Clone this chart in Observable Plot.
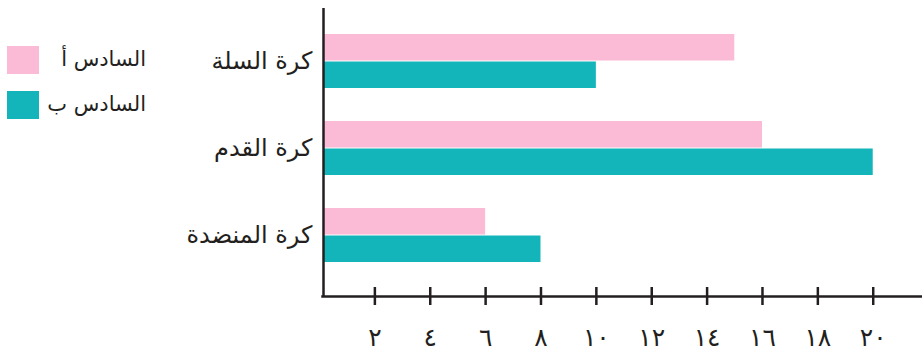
<!DOCTYPE html>
<html>
<head>
<meta charset="utf-8">
<script src="https://cdn.jsdelivr.net/npm/d3@7"></script>
<script src="https://cdn.jsdelivr.net/npm/@observablehq/plot@0.6"></script>
<style>
  html, body { margin: 0; padding: 0; background: #ffffff; }
  #wrap { position: relative; width: 922px; height: 351px; overflow: hidden; }
  #legend { position: absolute; left: 0; top: 0; font-family: "DejaVu Sans", sans-serif; color: #231f20; }
  .item { position: absolute; left: 7px; width: 139px; height: 28px; }
  .sw { position: absolute; left: 0; top: 0; width: 32px; height: 28px; }
  .lab { position: absolute; right: 0; top: -1px; line-height: 28px; font-size: 21px; direction: rtl; white-space: nowrap; }
</style>
</head>
<body>
<div id="wrap">
  <div id="chart"></div>
  <div id="legend"></div>
</div>
<script>
const categories = ["كرة السلة", "كرة القدم", "كرة المنضدة"];
const seriesNames = ["السادس أ", "السادس ب"];
const valuesA = [15, 16, 6];
const valuesB = [10, 20, 8];
const xTicks = [2, 4, 6, 8, 10, 12, 14, 16, 18, 20];
const tickLabels = ["٢", "٤", "٦", "٨", "١٠", "١٢", "١٤", "١٦", "١٨", "٢٠"];
const colors = ["#fbbad6", "#13b5ba"];
const ink = "#231f20";

const rowsA = categories.map((c, i) => ({category: c, series: seriesNames[0], value: valuesA[i]}));
const rowsB = categories.map((c, i) => ({category: c, series: seriesNames[1], value: valuesB[i]}));

const chart = Plot.plot({
  width: 922,
  height: 351,
  marginLeft: 319,
  marginRight: 0,
  marginTop: 8,
  marginBottom: 55,
  x: {domain: [0, 21.78], label: null},
  y: {domain: categories, paddingInner: 0.375, paddingOuter: 0.3239, align: 0.4386, label: null},
  style: {fontFamily: "'DejaVu Sans', sans-serif", fontSize: "20px", color: ink, background: "white"},
  marks: [
    Plot.barX(rowsA, {x: "value", y: "category", fill: colors[0], insetBottom: 27.5, insetLeft: 5}),
    Plot.barX(rowsB, {x: "value", y: "category", fill: colors[1], insetTop: 27.5, insetLeft: 5}),
    Plot.ruleX(xTicks, {stroke: ink, strokeWidth: 2.5, insetTop: 279, insetBottom: -9}),
    Plot.frame({anchor: "bottom", stroke: ink, strokeWidth: 2.5, insetLeft: 3}),
    Plot.ruleX([0], {dx: 4, stroke: ink, strokeWidth: 2.5, insetBottom: -1}),
    Plot.axisX({ticks: xTicks, tickSize: 0, tickPadding: 32, fontSize: 25, label: null,
      tickFormat: d => tickLabels[xTicks.indexOf(d)]}),
    Plot.axisY({tickSize: 0, tickPadding: 7, fontSize: 24, label: null})
  ]
});
document.getElementById("chart").appendChild(chart);

const legend = document.getElementById("legend");
const tops = [46, 91];
seriesNames.forEach((name, i) => {
  const item = document.createElement("div");
  item.className = "item";
  item.style.top = tops[i] + "px";
  const sw = document.createElement("div");
  sw.className = "sw";
  sw.style.background = colors[i];
  const lab = document.createElement("div");
  lab.className = "lab";
  lab.textContent = name;
  item.appendChild(sw);
  item.appendChild(lab);
  legend.appendChild(item);
});
</script>
</body>
</html>
